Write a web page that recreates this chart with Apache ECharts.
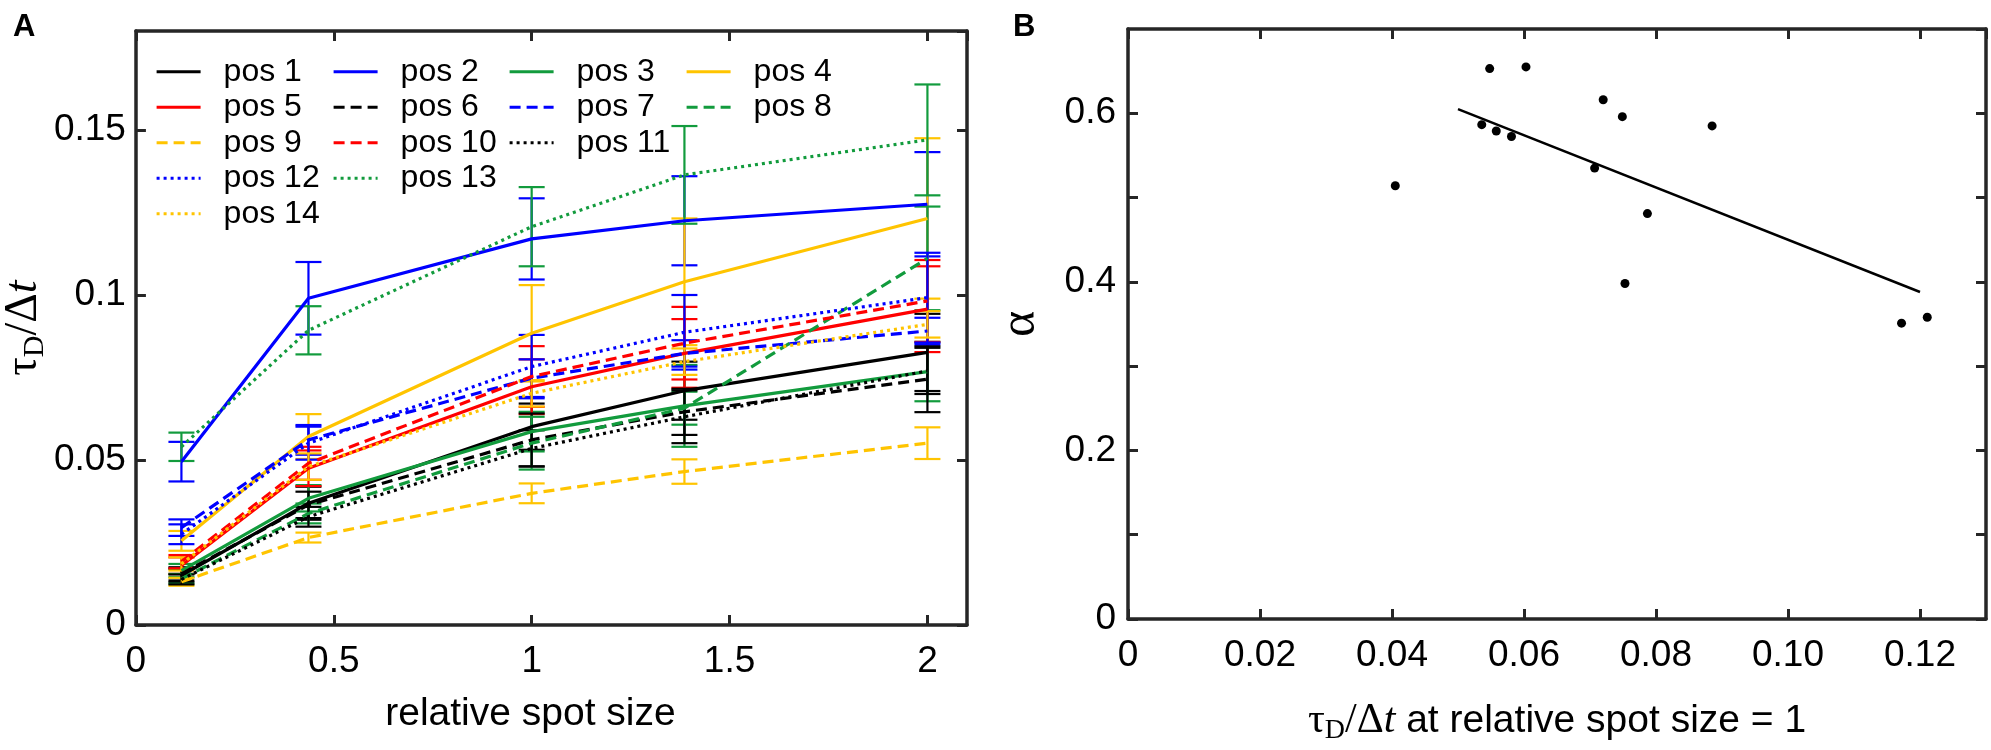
<!DOCTYPE html>
<html>
<head>
<meta charset="utf-8">
<script src="https://cdn.jsdelivr.net/npm/echarts@6/dist/echarts.min.js"></script>
<style>
  html, body { margin: 0; padding: 0; background: #fff; }
  #main { width: 1991px; height: 750px; }
</style>
</head>
<body>
<div id="main"></div>
<script>
// panel A: tau_D / dt vs relative spot size, 14 positions
const spotSize = [0.115, 0.436, 1, 1.386, 2];
const posNames = ['pos 1', 'pos 2', 'pos 3', 'pos 4', 'pos 5', 'pos 6', 'pos 7',
                  'pos 8', 'pos 9', 'pos 10', 'pos 11', 'pos 12', 'pos 13', 'pos 14'];
const tauMean = [
  [0.0150, 0.0369, 0.0601, 0.0710, 0.0826], // pos 1
  [0.0495, 0.0990, 0.1170, 0.1225, 0.1275], // pos 2
  [0.0165, 0.0384, 0.0586, 0.0664, 0.0768], // pos 3
  [0.0255, 0.0571, 0.0884, 0.1040, 0.1232], // pos 4
  [0.0180, 0.0475, 0.0722, 0.0823, 0.0957], // pos 5
  [0.0155, 0.0364, 0.0561, 0.0646, 0.0745], // pos 6
  [0.0295, 0.0561, 0.0748, 0.0823, 0.0891], // pos 7
  [0.0140, 0.0338, 0.0551, 0.0657, 0.1111], // pos 8
  [0.0131, 0.0265, 0.0399, 0.0465, 0.0551], // pos 9
  [0.0192, 0.0490, 0.0753, 0.0854, 0.0982], // pos 10
  [0.0138, 0.0328, 0.0535, 0.0631, 0.0770], // pos 11
  [0.0275, 0.0551, 0.0783, 0.0887, 0.0992], // pos 12
  [0.0540, 0.0893, 0.1207, 0.1364, 0.1470], // pos 13
  [0.0185, 0.0480, 0.0702, 0.0798, 0.0911]  // pos 14
];
const tauErr = [
  [0.0020, 0.0050, 0.0070, 0.0088, 0.0117],
  [0.0060, 0.0110, 0.0123, 0.0135, 0.0158],
  [0.0020, 0.0040, 0.0060, 0.0124, 0.0090],
  [0.0030, 0.0068, 0.0146, 0.0192, 0.0243],
  [0.0025, 0.0054, 0.0083, 0.0104, 0.0130],
  [0.0020, 0.0040, 0.0080, 0.0070, 0.0100],
  [0.0025, 0.0045, 0.0057, 0.0040, 0.0040],
  [0.0015, 0.0030, 0.0080, 0.0050, 0.0157],
  [0.0012, 0.0015, 0.0030, 0.0037, 0.0048],
  [0.0020, 0.0050, 0.0092, 0.0110, 0.0124],
  [0.0015, 0.0030, 0.0055, 0.0080, 0.0070],
  [0.0030, 0.0050, 0.0096, 0.0113, 0.0136],
  [0.0043, 0.0073, 0.0120, 0.0148, 0.0168],
  [0.0020, 0.0040, 0.0040, 0.0040, 0.0040]
];

// panel B: alpha vs tau_D/dt at spot size 1
const tauAtOne = [0.0405, 0.0548, 0.0603, 0.0536, 0.0558, 0.0581, 0.0720,
                  0.0749, 0.0885, 0.0707, 0.0787, 0.0753, 0.1172, 0.1211];
const alphaVals = [0.514, 0.653, 0.655, 0.5865, 0.579, 0.5725, 0.616,
                   0.596, 0.585, 0.535, 0.481, 0.398, 0.351, 0.358];
const fitX = [0.05, 0.12];
const fitY = [0.605, 0.388];

// styles
const BLACK = '#000000', BLUE = '#0000ff', GREEN = '#129b3d', YELLOW = '#ffc400', RED = '#ff0000';
const lineColors = [BLACK, BLUE, GREEN, YELLOW, RED, BLACK, BLUE, GREEN, YELLOW, RED, BLACK, BLUE, GREEN, YELLOW];
const DASH = [11, 6], DOT = [3, 4];
const lineTypes = ['solid', 'solid', 'solid', 'solid', 'solid', DASH, DASH, DASH, DASH, DASH, DOT, DOT, DOT, DOT];

const SANS = '"Liberation Sans", Arial, sans-serif';
const SERIF = '"Liberation Serif", "Times New Roman", serif';
const FRAME = '#262626';

var chart = echarts.init(document.getElementById('main'));

function errRender(color) {
    return function (params, api) {
        const x = api.value(0), y = api.value(1), e = api.value(2);
        const top = api.coord([x, y + e]);
        const bot = api.coord([x, y - e]);
        const w = 13;
        const st = { stroke: color, lineWidth: 2.2 };
        return {
            type: 'group',
            children: [
                { type: 'line', shape: { x1: top[0], y1: top[1], x2: bot[0], y2: bot[1] }, style: st },
                { type: 'line', shape: { x1: top[0] - w, y1: top[1], x2: top[0] + w, y2: top[1] }, style: st },
                { type: 'line', shape: { x1: bot[0] - w, y1: bot[1], x2: bot[0] + w, y2: bot[1] }, style: st }
            ]
        };
    };
}

var series = [];
for (var i = 0; i < posNames.length; i++) {
    series.push({
        name: posNames[i],
        type: 'line',
        xAxisIndex: 0,
        yAxisIndex: 0,
        symbol: 'none',
        data: spotSize.map((x, k) => [x, tauMean[i][k]]),
        lineStyle: { color: lineColors[i], width: 3.2, type: lineTypes[i] },
        itemStyle: { color: lineColors[i] }
    });
    series.push({
        name: posNames[i] + ' err',
        type: 'custom',
        xAxisIndex: 0,
        yAxisIndex: 0,
        renderItem: errRender(lineColors[i]),
        encode: { x: 0, y: 1 },
        data: spotSize.map((x, k) => [x, tauMean[i][k], tauErr[i][k]])
    });
}
series.push({
    name: 'fit',
    type: 'line',
    xAxisIndex: 2,
    yAxisIndex: 2,
    symbol: 'none',
    data: fitX.map((x, k) => [x, fitY[k]]),
    lineStyle: { color: '#000', width: 2.5 }
});
series.push({
    name: 'alpha',
    type: 'scatter',
    xAxisIndex: 2,
    yAxisIndex: 2,
    symbolSize: 9,
    itemStyle: { color: '#000', opacity: 1 },
    data: tauAtOne.map((x, k) => [x, alphaVals[k]])
});

// legend columns (MATLAB layout)
const legendCols = [
    { left: 150, data: ['pos 1', 'pos 5', 'pos 9', 'pos 12', 'pos 14'] },
    { left: 327, data: ['pos 2', 'pos 6', 'pos 10', 'pos 13'] },
    { left: 503, data: ['pos 3', 'pos 7', 'pos 11'] },
    { left: 680, data: ['pos 4', 'pos 8'] }
];
var legends = legendCols.map(function (c) {
    return {
        orient: 'vertical',
        left: c.left,
        top: 49,
        data: c.data,
        itemWidth: 44,
        itemHeight: 14,
        itemGap: 0,
        selectedMode: false,
        itemStyle: { color: 'transparent', borderColor: 'transparent', borderWidth: 0, opacity: 0 },
        lineStyle: { width: 3.2 },
        textStyle: { fontFamily: SANS, fontSize: 32, color: '#000', lineHeight: 35.5, padding: [0, 0, 0, 18] }
    };
});

function axisCommon(extra) {
    return Object.assign({
        splitLine: { show: false },
        axisLine: { show: true, onZero: false, lineStyle: { color: FRAME, width: 3.5 } },
        axisTick: { show: true, inside: true, length: 10, lineStyle: { color: FRAME, width: 3 } },
        axisLabel: { show: false }
    }, extra);
}
const tickLabel = { show: true, fontFamily: SANS, fontSize: 37, color: '#000', showMaxLabel: false };

var option = {
    backgroundColor: '#fff',
    animation: false,
    grid: [
        { left: 129, right: 1991 - 967, top: 31, bottom: 750 - 625 },
        { left: 1128, right: 5, top: 29, bottom: 750 - 624 }
    ],
    legend: legends,
    xAxis: [
        axisCommon({
            gridIndex: 0, type: 'value', position: 'bottom', min: 0, max: 2.1, interval: 0.5,
            axisLabel: Object.assign({}, tickLabel, { margin: 18 }),
            name: 'relative spot size', nameLocation: 'middle', nameGap: 70,
            nameTextStyle: { fontFamily: SANS, fontSize: 39, color: '#000', padding: [0, 42, 0, 0] }
        }),
        axisCommon({ gridIndex: 0, type: 'value', position: 'top', min: 0, max: 2.1, interval: 0.5 }),
        axisCommon({
            gridIndex: 1, type: 'value', position: 'bottom', min: 0, max: 0.13, interval: 0.02,
            axisLabel: Object.assign({}, tickLabel, {
                margin: 18,
                formatter: function (v) { return v === 0 ? '0' : v.toFixed(2); }
            }),
            name: '{s|τ}{sub|D}{s|/Δ}{i|t}{n| at relative spot size = 1}',
            nameLocation: 'middle', nameGap: 78,
            nameTextStyle: {
                rich: {
                    s: { fontFamily: SERIF, fontSize: 42, color: '#000', lineHeight: 48 },
                    i: { fontFamily: SERIF, fontStyle: 'italic', fontSize: 42, color: '#000', lineHeight: 48 },
                    sub: { fontFamily: SERIF, fontSize: 28, color: '#000', verticalAlign: 'bottom', lineHeight: 28 },
                    n: { fontFamily: SANS, fontSize: 39, color: '#000', lineHeight: 48 }
                }
            }
        }),
        axisCommon({ gridIndex: 1, type: 'value', position: 'top', min: 0, max: 0.13, interval: 0.02 })
    ],
    yAxis: [
        axisCommon({
            gridIndex: 0, type: 'value', position: 'left', min: 0, max: 0.18, interval: 0.05,
            axisLabel: Object.assign({}, tickLabel, { margin: 10 }),
            name: '{s|τ}{sub|D}{s|/Δ}{i|t}', nameLocation: 'middle', nameGap: 82, nameRotate: 90,
            nameTextStyle: {
                rich: {
                    s: { fontFamily: SERIF, fontSize: 46, color: '#000', lineHeight: 52 },
                    i: { fontFamily: SERIF, fontStyle: 'italic', fontSize: 46, color: '#000', lineHeight: 52 },
                    sub: { fontFamily: SERIF, fontSize: 30, color: '#000', verticalAlign: 'bottom', lineHeight: 30 }
                }
            }
        }),
        axisCommon({ gridIndex: 0, type: 'value', position: 'right', min: 0, max: 0.18, interval: 0.05 }),
        axisCommon({
            gridIndex: 1, type: 'value', position: 'left', min: 0, max: 0.7, interval: 0.1,
            axisLabel: Object.assign({}, tickLabel, {
                margin: 12,
                formatter: function (v) {
                    var k = Math.round(v * 10);
                    if (k % 2 !== 0) return '';
                    return k === 0 ? '0' : v.toFixed(1);
                }
            }),
            name: 'α', nameLocation: 'middle', nameGap: 82, nameRotate: 90,
            nameTextStyle: { fontFamily: SERIF, fontSize: 50, color: '#000' }
        }),
        axisCommon({ gridIndex: 1, type: 'value', position: 'right', min: 0, max: 0.7, interval: 0.1 })
    ],
    graphic: [
        { type: 'text', left: 13, top: 12, style: { text: 'A', fontFamily: SANS, fontWeight: 'bold', fontSize: 31, fill: '#000' } },
        { type: 'text', left: 1013, top: 12, style: { text: 'B', fontFamily: SANS, fontWeight: 'bold', fontSize: 31, fill: '#000' } }
    ],
    series: series
};

chart.setOption(option);
</script>
</body>
</html>
